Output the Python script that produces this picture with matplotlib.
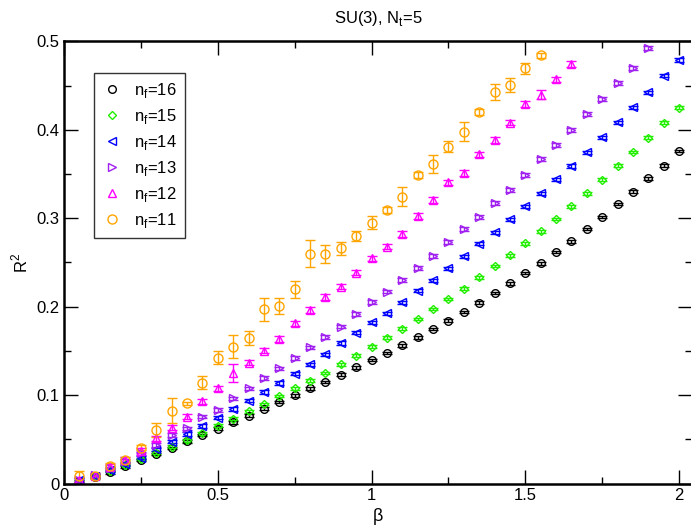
import numpy as np
import matplotlib
matplotlib.use("Agg")
import matplotlib.pyplot as plt
from matplotlib.lines import Line2D
from matplotlib.ticker import MultipleLocator

plt.rcParams['font.family'] = ['Liberation Sans', 'DejaVu Sans']

beta = [round(0.05 * i, 2) for i in range(1, 41)]

# R^2 versus beta for each number of flavours
r2_nf16 = [0.003, 0.0077, 0.0127, 0.0195, 0.0266, 0.0334, 0.0402, 0.0477, 0.0549, 0.062,
           0.0692, 0.0767, 0.0846, 0.0922, 0.0998, 0.1077, 0.1148, 0.123, 0.1314, 0.1397,
           0.1476, 0.1563, 0.1654, 0.1748, 0.184, 0.194, 0.2045, 0.2155, 0.2265, 0.238,
           0.249, 0.262, 0.274, 0.288, 0.3015, 0.316, 0.330, 0.345, 0.3595, 0.376]
r2_nf15 = [0.003, 0.008, 0.014, 0.021, 0.0277, 0.0348, 0.0416, 0.0489, 0.0568, 0.0654,
           0.0733, 0.0817, 0.090, 0.099, 0.1077, 0.1163, 0.125, 0.1348, 0.1446, 0.1546,
           0.165, 0.1751, 0.1861, 0.1974, 0.2087, 0.2204, 0.2332, 0.246, 0.258, 0.2717,
           0.285, 0.299, 0.3136, 0.328, 0.3437, 0.3595, 0.375, 0.391, 0.408, 0.425]
r2_nf14 = [0.004, 0.009, 0.0153, 0.022, 0.0292, 0.0387, 0.0473, 0.056, 0.065, 0.0744,
           0.0843, 0.0937, 0.1035, 0.1137, 0.1242, 0.1348, 0.146, 0.159, 0.1706, 0.1823,
           0.1925, 0.205, 0.218, 0.230, 0.2434, 0.257, 0.271, 0.284, 0.299, 0.3136,
           0.328, 0.344, 0.359, 0.3747, 0.3916, 0.4086, 0.4256, 0.4425, 0.461, 0.479]
r2_nf13 = [0.004, 0.010, 0.017, 0.0255, 0.0342, 0.0436, 0.0549, 0.0624, 0.0756, 0.0831,
           0.0964, 0.1077, 0.1193, 0.1303, 0.142, 0.154, 0.1657, 0.1774, 0.1917, 0.205,
           0.217, 0.2302, 0.2438, 0.257, 0.273, 0.288, 0.3015, 0.317, 0.332, 0.349,
           0.367, 0.3826, 0.400, 0.4177, 0.4346, 0.4527, 0.470, 0.4923]
r2_nf12 = [0.004, 0.0085, 0.019, 0.0266, 0.0371, 0.0511, 0.0631, 0.0756, 0.093, 0.1077,
           0.1247, 0.1367, 0.1502, 0.1635, 0.1812, 0.1963, 0.211, 0.2227, 0.2385, 0.2548,
           0.268, 0.282, 0.3026, 0.3207, 0.3407, 0.351, 0.3724, 0.3886, 0.408, 0.4293,
           0.4395, 0.457, 0.4745]
r2_nf11 = [0.0085, 0.0085, 0.0198, 0.0266, 0.0405, 0.0605, 0.0824, 0.0907, 0.114, 0.1423,
           0.1548, 0.165, 0.197, 0.2008, 0.2197, 0.260, 0.2593, 0.266, 0.280, 0.295,
           0.3094, 0.3244, 0.349, 0.361, 0.381, 0.3976, 0.420, 0.4425, 0.4508, 0.4697,
           0.4844]

err_nf16 = [0.0015] * 40
err_nf15 = [0.0015] * 40
err_nf14 = [0.0018] * 40
err_nf13 = [0.002] * 38
err_nf12 = [0.002, 0.002, 0.003, 0.003, 0.003, 0.003, 0.003, 0.003, 0.003, 0.003,
            0.010, 0.003, 0.003, 0.003, 0.003, 0.003, 0.003, 0.003, 0.003, 0.003,
            0.003, 0.003, 0.003, 0.003, 0.003, 0.003, 0.003, 0.003, 0.003, 0.003,
            0.005, 0.003, 0.003]
err_nf11 = [0.006, 0.003, 0.003, 0.003, 0.003, 0.0075, 0.014, 0.002, 0.0075, 0.007,
            0.013, 0.008, 0.0127, 0.009, 0.0096, 0.0156, 0.010, 0.0075, 0.006, 0.0075,
            0.003, 0.011, 0.003, 0.010, 0.0066, 0.0107, 0.003, 0.009, 0.0075, 0.0064,
            0.003]

labels = [r'n$_\mathregular{f}$=16', r'n$_\mathregular{f}$=15', r'n$_\mathregular{f}$=14',
          r'n$_\mathregular{f}$=13', r'n$_\mathregular{f}$=12', r'n$_\mathregular{f}$=11']
colors = ['black', '#22ee00', '#0000ff', '#a020f0', '#ff00ff', '#ffa500']
markers = ['o', 'D', '<', '>', '^', 'o']
sizes = [5.5, 4.3, 5.5, 5.5, 5.5, 6.5]
series = [r2_nf16, r2_nf15, r2_nf14, r2_nf13, r2_nf12, r2_nf11]
errors = [err_nf16, err_nf15, err_nf14, err_nf13, err_nf12, err_nf11]

fig = plt.figure(figsize=(6.91, 5.27), dpi=100)
# the right spine sits just past the figure edge
ax = fig.add_axes([0.0926, 0.0825, 0.9088, 0.839])

handles = []
for y, e, c, m, s, lab in zip(series, errors, colors, markers, sizes, labels):
    x = beta[:len(y)]
    ax.errorbar(x, y, yerr=e, fmt=m, color=c, mfc='none', mec=c, ms=s, mew=1.0,
                elinewidth=1.0, capsize=3.5, capthick=1.0)
    handles.append(Line2D([], [], linestyle='none', marker=m, color=c, mfc='none',
                          mec=c, ms=s, mew=1.0, label=lab))

ax.set_xlim(0, 2.042)
ax.set_ylim(0, 0.5)
ax.xaxis.set_minor_locator(MultipleLocator(0.25))
ax.yaxis.set_minor_locator(MultipleLocator(0.05))
ax.set_xticks([0, 0.5, 1, 1.5, 2])
ax.set_xticklabels(['0', '0.5', '1', '1.5', '2'])
ax.set_yticks([0, 0.1, 0.2, 0.3, 0.4, 0.5])
ax.set_yticklabels(['0', '0.1', '0.2', '0.3', '0.4', '0.5'])
ax.tick_params(which='both', direction='in', top=True, right=True, labelsize=12)
ax.tick_params(which='major', length=10, width=1.0)
ax.tick_params(which='minor', length=5, width=1.0)
for sp in ax.spines.values():
    sp.set_linewidth(1.8)

ax.set_xlabel('β', fontsize=13, labelpad=3)
ax.set_ylabel(r'R$^\mathregular{2}$', fontsize=12, labelpad=4)
ax.set_title(r'SU(3), N$_\mathregular{t}$=5', fontsize=12, pad=13)

leg = ax.legend(handles=handles, loc='upper left', bbox_to_anchor=(0.048, 0.929),
                borderaxespad=0.0, fontsize=12, frameon=True, fancybox=False,
                edgecolor='black', handlelength=1.2, handletextpad=0.7,
                borderpad=0.5, labelspacing=0.42)
leg.get_frame().set_linewidth(1.0)

fig.savefig('out.png', dpi=100)
